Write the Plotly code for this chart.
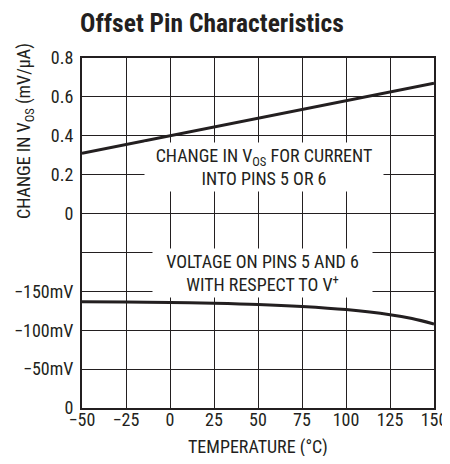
import plotly.graph_objects as go

# ---- data ----
temp_upper = [-50, 0, 50, 100, 150]
dvos_mv_per_ua = [0.31, 0.40, 0.49, 0.58, 0.67]

temp_lower = [-50, -25, 0, 25, 50, 75, 100, 125, 137.5, 150]
pin_voltage_mv = [-136.5, -136.3, -135.8, -134.8, -133.2, -130.5, -126.5, -120, -115, -108]

x_ticks = [-50, -25, 0, 25, 50, 75, 100, 125, 150]
x_ticktext = ["\u221250", "\u221225", "0", "25", "50", "75", "100", "125", "150"]
y_ticktext = ["0", "\u221250mV", "\u2212100mV", "\u2212150mV", "", "0", "0.2", "0.4", "0.6", "0.8"]

# map both panels onto a shared 0..9 grid-unit axis
def upper_to_axis(v):
    return 5 + v / 0.2

def lower_to_axis(v):
    return v / -50.0

FONT = "Roboto Condensed, Archivo Narrow, Liberation Sans Narrow, sans-serif"
INK = "#231f20"
W, H = 442, 448

fig = go.Figure()
fig.add_trace(go.Scatter(x=temp_upper, y=[upper_to_axis(v) for v in dvos_mv_per_ua],
                         mode="lines", line=dict(color=INK, width=3), showlegend=False))
fig.add_trace(go.Scatter(x=temp_lower, y=[lower_to_axis(v) for v in pin_voltage_mv],
                         mode="lines", line=dict(color=INK, width=3, shape="spline"),
                         showlegend=False))

fig.update_layout(
    width=W, height=H,
    margin=dict(l=74, r=16, t=50, b=48, autoexpand=False),
    paper_bgcolor="white", plot_bgcolor="white",
    font=dict(family=FONT, size=18, color=INK),
    title=dict(text="<b>Offset Pin Characteristics</b>", xref="container", yref="container",
               x=72/W, xanchor="left", y=1-15/H, yanchor="middle", automargin=False,
               font=dict(family=FONT, size=25.5, color=INK)),
)
fig.update_xaxes(range=[-50, 150], tickvals=x_ticks, ticktext=x_ticktext,
                 showgrid=True, gridcolor=INK, gridwidth=1, automargin=False,
                 showline=True, linecolor=INK, linewidth=2, mirror=True,
                 ticks="", ticklabelstandoff=-6, zeroline=False, fixedrange=True)
fig.update_yaxes(range=[0, 9], tickvals=list(range(10)), ticktext=y_ticktext,
                 showgrid=True, gridcolor=INK, gridwidth=1, automargin=False,
                 showline=True, linecolor=INK, linewidth=2, mirror=True,
                 ticks="", ticklabelstandoff=3, zeroline=False, fixedrange=True)

fig.add_annotation(x=53.4, y=6.2, xref="x", yref="y",
                   text="CHANGE IN V<sub>OS</sub> FOR CURRENT<br>INTO PINS 5 OR 6",
                   showarrow=False, bgcolor="white", width=234, height=44, borderpad=2)
fig.add_annotation(x=52.6, y=3.47, xref="x", yref="y",
                   text="VOLTAGE ON PINS 5 AND 6<br>WITH RESPECT TO V<sup>+</sup>",
                   showarrow=False, bgcolor="white", width=215, height=44, borderpad=2)

fig.add_annotation(x=(25-82)/352, y=(408-131)/350, xref="paper", yref="paper",
                   text="CHANGE IN V<sub>OS</sub> (mV/\u03bcA)", textangle=-90,
                   showarrow=False, xanchor="center", yanchor="middle")
fig.add_annotation(x=0.5, y=(408-447)/350, xref="paper", yref="paper",
                   text="TEMPERATURE (\u00b0C)", showarrow=False,
                   xanchor="center", yanchor="middle")

fig.write_html("out.html")
